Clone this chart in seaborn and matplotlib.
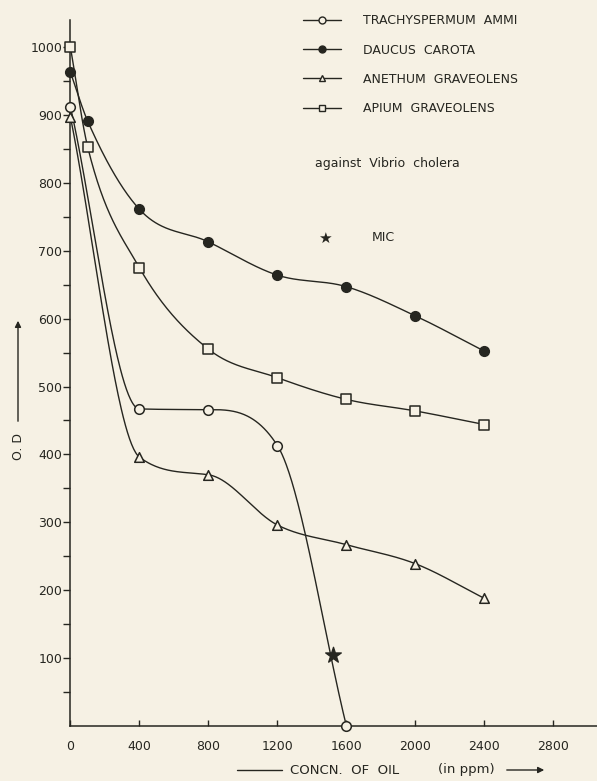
import numpy as np
import pandas as pd
import matplotlib
matplotlib.use("Agg")
import matplotlib.pyplot as plt
from matplotlib.lines import Line2D
from matplotlib.patches import FancyArrowPatch
import seaborn as sns

# values (O.D. against oil concentration, ppm)
ammi_x = [0, 400, 800, 1200, 1600]
ammi_y = [912, 467, 466, 413, 0]
carota_x = [0, 100, 400, 800, 1200, 1600, 2000, 2400]
carota_y = [963, 891, 761, 713, 664, 647, 604, 552]
anethum_x = [0, 400, 800, 1200, 1600, 2000, 2400]
anethum_y = [897, 396, 370, 296, 267, 239, 188]
apium_x = [0, 100, 400, 800, 1200, 1600, 2000, 2400]
apium_y = [1000, 853, 675, 555, 513, 481, 464, 444]
mic_x = [1520]
mic_y = [105]

x_ticks = [0, 400, 800, 1200, 1600, 2000, 2400, 2800]
y_ticks = [100, 200, 300, 400, 500, 600, 700, 800, 900, 1000]

paper = "#f6f1e4"
ink = "#262620"


def smooth(x, y, n=400):
    # Fritsch-Carlson monotone cubic path through the read points, only for drawing the curve
    x = np.asarray(x, float)
    y = np.asarray(y, float)
    h = np.diff(x)
    d = np.diff(y) / h
    m = np.zeros_like(y)
    m[0] = d[0]
    m[-1] = d[-1]
    for k in range(1, len(x) - 1):
        if d[k - 1] * d[k] > 0:
            m[k] = (d[k - 1] + d[k]) / 2
    for k in range(len(d)):
        if d[k] == 0:
            m[k] = m[k + 1] = 0
            continue
        a = m[k] / d[k]
        b = m[k + 1] / d[k]
        r = a * a + b * b
        if r > 9:
            tau = 3 / np.sqrt(r)
            m[k] = tau * a * d[k]
            m[k + 1] = tau * b * d[k]
    xs = np.linspace(x[0], x[-1], n)
    i = np.clip(np.searchsorted(x, xs) - 1, 0, len(x) - 2)
    t = (xs - x[i]) / h[i]
    ys = ((2 * t**3 - 3 * t**2 + 1) * y[i] + (t**3 - 2 * t**2 + t) * h[i] * m[i]
          + (-2 * t**3 + 3 * t**2) * y[i + 1] + (t**3 - t**2) * h[i] * m[i + 1])
    return xs, ys


sns.set_style("ticks")
plt.rcParams["font.family"] = ["DejaVu Sans"]
plt.rcParams["axes.facecolor"] = paper
plt.rcParams["figure.facecolor"] = paper

fig = plt.figure(figsize=(5.97, 7.81), dpi=100)
ax = fig.add_axes([70.4 / 597, 55 / 781, 1 - 70.4 / 597, 706 / 781])

series = [
    ("TRACHYSPERMUM  AMMI", ammi_x, ammi_y, "o", paper),
    ("DAUCUS  CAROTA", carota_x, carota_y, "o", ink),
    ("ANETHUM  GRAVEOLENS", anethum_x, anethum_y, "^", paper),
    ("APIUM  GRAVEOLENS", apium_x, apium_y, "s", paper),
]

handles = []
for name, xv, yv, mk, face in series:
    xs, ys = smooth(xv, yv)
    sns.lineplot(x=xs, y=ys, ax=ax, color=ink, lw=1.0, sort=False)
    df = pd.DataFrame({"x": xv, "y": yv})
    sns.scatterplot(data=df, x="x", y="y", ax=ax, marker=mk, s=48,
                    facecolor=face, edgecolor=ink, linewidth=1.1, zorder=5,
                    clip_on=False)
    handles.append(Line2D([], [], color=ink, lw=1.0, marker=mk, markersize=5,
                          markerfacecolor=face, markeredgecolor=ink, label=name))

sns.scatterplot(x=mic_x, y=mic_y, ax=ax, marker="*", s=140, color=ink,
                edgecolor=ink, zorder=6)

ax.set_xlim(0, (597 - 70.4) / 0.1725)
ax.set_ylim(0, 706 / 0.679)
ax.set_xticks(x_ticks)
ax.set_yticks(y_ticks)
ax.set_yticks(np.arange(50, 1001, 100), minor=True)
ax.tick_params(axis="x", direction="in", length=4, width=1, colors=ink,
               labelsize=9, pad=10)
ax.tick_params(axis="y", which="both", direction="out", length=5, width=1,
               colors=ink, labelsize=9, pad=1)
ax.set_xlabel("")
ax.set_ylabel("")
for side in ["left", "bottom"]:
    ax.spines[side].set_color(ink)
    ax.spines[side].set_linewidth(1.1)
sns.despine(ax=ax)

leg = ax.legend(handles=handles, loc="upper left",
                bbox_to_anchor=(297 / 597, 1 - 8 / 781),
                bbox_transform=fig.transFigure, frameon=False, fontsize=9,
                handlelength=3.0, handletextpad=1.8, labelspacing=1.3,
                borderpad=0)
for t in leg.get_texts():
    t.set_color(ink)

fig.text(315 / 597, 1 - 163 / 781, "against  Vibrio  cholera", fontsize=9,
         color=ink, va="center")
fig.text(325 / 597, 1 - 238 / 781, "\u2605", fontsize=11, color=ink,
         ha="center", va="center")
fig.text(372 / 597, 1 - 238 / 781, "MIC", fontsize=9, color=ink, va="center")

# axis titles with their arrows
fig.text(18 / 597, 1 - 446 / 781, "O. D", rotation=90, fontsize=9, color=ink,
         ha="center", va="center")
fig.add_artist(FancyArrowPatch(
    (18 / 597, 1 - 424 / 781), (18 / 597, 1 - 318 / 781),
    transform=fig.transFigure, arrowstyle="-|>", mutation_scale=9,
    color=ink, lw=1))
fig.text(290 / 597, 1 - 770 / 781, "CONCN.  OF  OIL", fontsize=9.5,
         color=ink, va="center")
fig.text(438 / 597, 1 - 770 / 781, "(in ppm)", fontsize=9.5,
         color=ink, va="center")
fig.add_artist(Line2D([237 / 597, 282 / 597], [1 - 770 / 781] * 2,
                      transform=fig.transFigure, color=ink, lw=1))
fig.add_artist(FancyArrowPatch(
    (504 / 597, 1 - 770 / 781), (547 / 597, 1 - 770 / 781),
    transform=fig.transFigure, arrowstyle="-|>", mutation_scale=9,
    color=ink, lw=1))

fig.savefig("out.png", dpi=100, facecolor=paper)
